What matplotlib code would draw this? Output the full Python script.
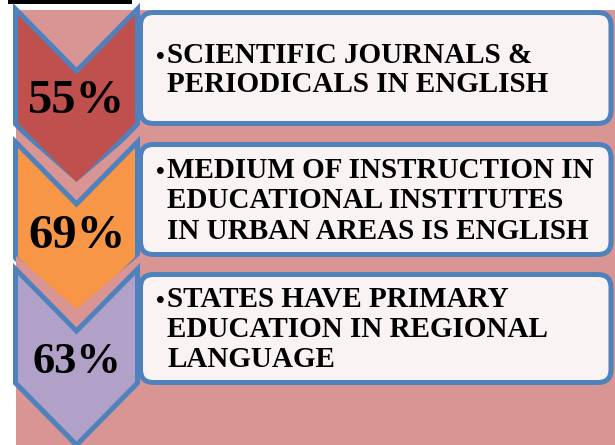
import matplotlib
matplotlib.use("Agg")
import matplotlib.pyplot as plt
from matplotlib.patches import Polygon, Rectangle, FancyBboxPatch

# ---- content ----
percent_labels = ["55%", "69%", "63%"]
percent_sizes = [35, 35, 32]
chevron_colors = ["#C0504D", "#F79646", "#B1A0C7"]
box_lines = [
    ["SCIENTIFIC JOURNALS &", "PERIODICALS IN ENGLISH"],
    ["MEDIUM OF INSTRUCTION IN", "EDUCATIONAL INSTITUTES", "IN URBAN AREAS IS ENGLISH"],
    ["STATES HAVE PRIMARY", "EDUCATION IN REGIONAL", "LANGUAGE"],
]

# ---- layout (pixel space) ----
W, H = 615, 445
BG = "#D99594"
BLUE = "#4F81BD"
BOXFILL = "#F9F3F4"
chev_tops = [9, 142, 269]
chev_bots = [124, 258, 383]
chev_depth = 62
L, R, C = 15.5, 137.5, 76.5
box_y = [(12.5, 123.5), (144.5, 254.5), (274.5, 382.5)]
box_x = (140.5, 611)
line_base = [[63, 92], [178, 208, 239], [307, 337, 367]]
pct_base = [113, 248, 373]

fig = plt.figure(figsize=(W / 100, H / 100), dpi=100)
ax = fig.add_axes([0, 0, 1, 1])
ax.set_xlim(0, W)
ax.set_ylim(H, 0)
ax.axis("off")

px = 72 / 100  # points per pixel

ax.add_patch(Rectangle((16, 10), W - 16, H - 10, facecolor=BG, edgecolor="none", zorder=0))
ax.add_patch(Rectangle((8, 0), 124, 3.5, facecolor="black", edgecolor="none", zorder=1))

for i in range(3):
    top, bot = chev_tops[i], chev_bots[i]
    z = 2 + i * 2
    if i > 0:
        halo = [(16, top - 13), (C, top + chev_depth - 22), (R + 2.5, top - 14),
                (R + 2.5, top + 4), (C, top + chev_depth + 4), (16, top + 4)]
        ax.add_patch(Polygon(halo, closed=True, facecolor=BG, edgecolor="none", zorder=z))
    pts = [(L, top), (C, top + chev_depth), (R, top), (R, bot),
           (C, bot + chev_depth), (L, bot)]
    ax.add_patch(Polygon(pts, closed=True, facecolor=chevron_colors[i],
                         edgecolor=BLUE, lw=5 * px, joinstyle="miter", zorder=z + 1))
    ax.text(C, pct_base[i], percent_labels[i], ha="center", va="baseline",
            fontsize=percent_sizes[i], fontweight="bold",
            family="Liberation Serif", zorder=20)

for i in range(3):
    y0, y1 = box_y[i]
    ax.add_patch(FancyBboxPatch((box_x[0], y0), box_x[1] - box_x[0], y1 - y0,
                                boxstyle="round,pad=0,rounding_size=13",
                                facecolor=BOXFILL, edgecolor=BLUE, lw=5 * px,
                                zorder=15))
    for j, line in enumerate(box_lines[i]):
        ax.text(167, line_base[i][j], line, ha="left", va="baseline",
                fontsize=21, fontweight="bold", family="Liberation Serif",
                zorder=20)
    ax.text(160, line_base[i][0] + 1, "•", ha="center", va="baseline",
            fontsize=18, fontweight="bold", family="Liberation Serif", zorder=20)

fig.savefig("out.png", dpi=100)
